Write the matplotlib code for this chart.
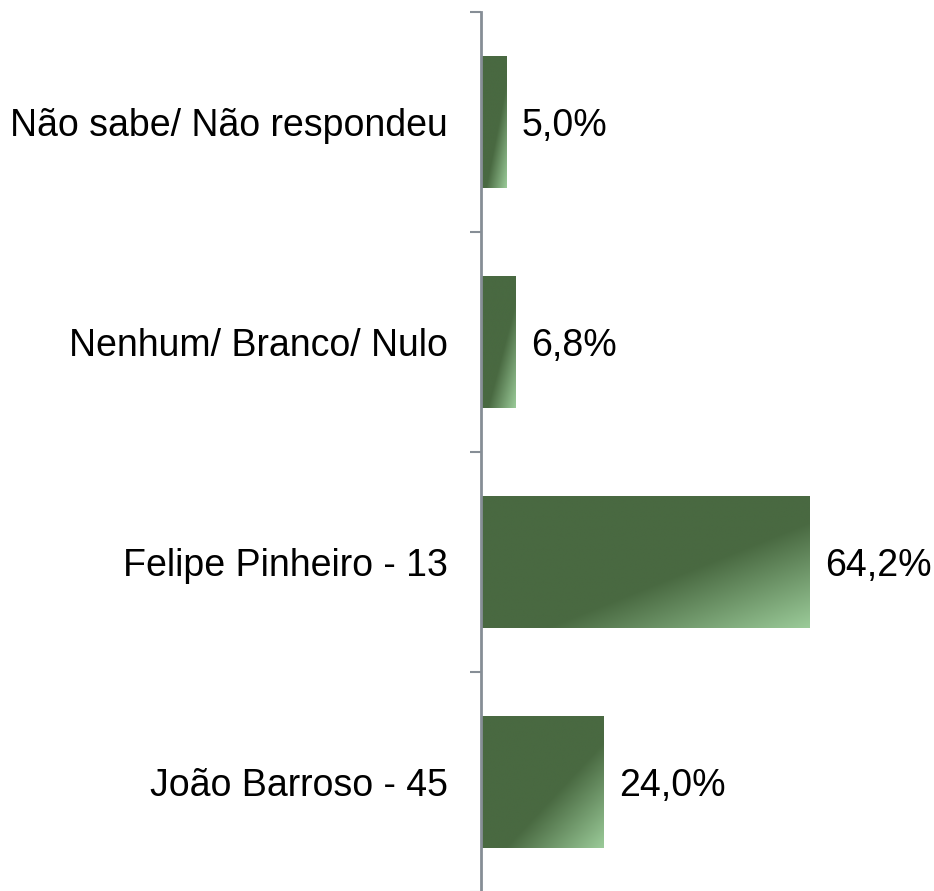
import numpy as np
import matplotlib
matplotlib.use('Agg')
import matplotlib.pyplot as plt
import matplotlib.transforms as mtransforms
from matplotlib.colors import to_rgb

plt.rcParams['font.family'] = ['Liberation Sans', 'DejaVu Sans']

# dados (de baixo para cima)
categorias = ['João Barroso - 45', 'Felipe Pinheiro - 13',
              'Nenhum/ Branco/ Nulo', 'Não sabe/ Não respondeu']
valores = [24.0, 64.2, 6.8, 5.0]

ESCURO = to_rgb('#496941')
CLARO = to_rgb('#9bcb99')
W, H = 934, 891
FS = 27

fig = plt.figure(figsize=(W / 100, H / 100), dpi=100)
ax = fig.add_axes([481 / W, -1 / H, 1 - 481 / W, 880 / H])

# gradiente diagonal: escuro até ~60%, clareando no canto inferior direito
n = 200
u = np.linspace(0, 1, n)
xx, yy = np.meshgrid(u, u)          # yy=0 em cima
s = (xx + yy) / 2
t = np.clip((s - 0.6) / 0.4, 0, 1)
grad = np.zeros((n, n, 3))
for k in range(3):
    grad[..., k] = ESCURO[k] + (CLARO[k] - ESCURO[k]) * t

desce = mtransforms.ScaledTranslation(0, -4 / 100, fig.dpi_scale_trans)

alt = 0.6
for i, v in enumerate(valores):
    ax.imshow(grad, extent=[0, v, i - alt / 2, i + alt / 2], origin='upper',
              aspect='auto', interpolation='bilinear', zorder=2)
    ax.text(v + 3.0, i, f'{v:.1f}%'.replace('.', ','), va='center', ha='left',
            fontsize=FS, color='black', transform=ax.transData + desce)

ax.set_xlim(0, (W - 481) / 5.12)
ax.set_ylim(-0.5, 3.5)
ax.set_yticks(range(len(categorias)))
ax.set_yticklabels(categorias, fontsize=FS)
for lab in ax.get_yticklabels():
    lab.set_transform(lab.get_transform() + desce)
ax.set_yticks(np.arange(-0.5, 3.6, 1), minor=True)
ax.tick_params(axis='y', which='major', length=0, pad=24)
ax.tick_params(axis='y', which='minor', length=8, width=1.5, color='#868e96')
ax.set_xticks([])
for lado in ['top', 'right', 'bottom']:
    ax.spines[lado].set_visible(False)
ax.spines['left'].set_color('#868e96')
ax.spines['left'].set_linewidth(2)
ax.spines['left'].set_zorder(3)

fig.savefig('out.png', dpi=100)
